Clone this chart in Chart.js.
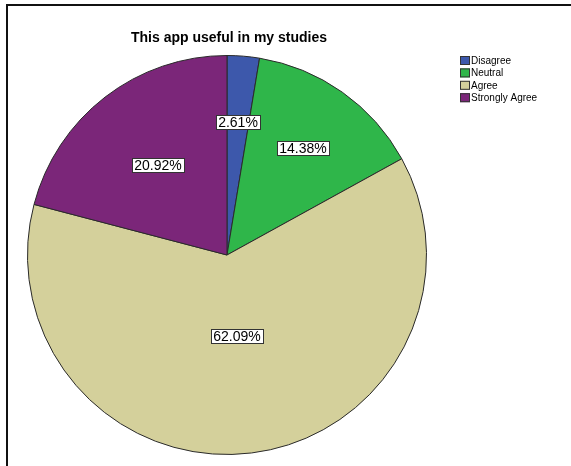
<!DOCTYPE html>
<html>
<head>
<meta charset="utf-8">
<script src="https://cdn.jsdelivr.net/npm/chart.js@4/dist/chart.umd.min.js"></script>
<style>
  html, body { margin: 0; padding: 0; background: #fff; }
  #wrap { width: 571px; height: 466px; position: relative; }
</style>
</head>
<body>
<div id="wrap"><canvas id="pie"></canvas></div>
<script>
const title = 'This app useful in my studies';
const categories = ['Disagree', 'Neutral', 'Agree', 'Strongly Agree'];
const percents = [2.61, 14.38, 62.09, 20.92];
const colors = ['#3d58ab', '#2fb64a', '#d4d09b', '#7b2679'];

// how far out (fraction of radius) each slice label sits
const labelDist = [0.67, 0.66, 0.41, 0.57];

const framePlugin = {
    id: 'frame',
    beforeDraw(chart) {
        const ctx = chart.ctx;
        ctx.save();
        ctx.fillStyle = '#111';
        ctx.fillRect(6, 4, 565, 2);
        ctx.fillRect(6, 4, 2, 462);
        ctx.restore();
    }
};

const extrasPlugin = {
    id: 'extras',
    afterDraw(chart) {
        const ctx = chart.ctx;
        ctx.save();

        // title
        ctx.fillStyle = '#000';
        ctx.font = 'bold 14px "Liberation Sans", Arial, sans-serif';
        ctx.textAlign = 'center';
        ctx.textBaseline = 'middle';
        ctx.fillText(title, 229, 38);

        // legend
        ctx.font = '10px "Liberation Sans", Arial, sans-serif';
        ctx.textAlign = 'left';
        categories.forEach((c, i) => {
            const y = 56 + i * 12.4;
            ctx.fillStyle = colors[i];
            ctx.fillRect(460, y, 10, 9);
            ctx.strokeStyle = '#333';
            ctx.lineWidth = 1;
            ctx.strokeRect(460.5, y + 0.5, 9, 8);
            ctx.fillStyle = '#000';
            ctx.fillText(c, 471, y + 5);
        });

        // percentage labels
        const meta = chart.getDatasetMeta(0);
        ctx.font = '14px "Liberation Sans", Arial, sans-serif';
        ctx.textAlign = 'center';
        meta.data.forEach((arc, i) => {
            const p = arc.getProps(['x', 'y', 'startAngle', 'endAngle', 'outerRadius'], true);
            const mid = (p.startAngle + p.endAngle) / 2;
            const r = p.outerRadius * labelDist[i];
            const x = Math.round(p.x + Math.cos(mid) * r);
            const y = Math.round(p.y + Math.sin(mid) * r);
            const txt = percents[i].toFixed(2) + '%';
            const w = Math.ceil(ctx.measureText(txt).width) + 4;
            const h = 14;
            ctx.fillStyle = '#fff';
            ctx.fillRect(x - w / 2, y - h / 2, w, h);
            ctx.strokeStyle = '#333';
            ctx.lineWidth = 1;
            ctx.strokeRect(Math.round(x - w / 2) + 0.5, Math.round(y - h / 2) + 0.5, w, h);
            ctx.fillStyle = '#000';
            ctx.fillText(txt, x, y + 1);
        });
        ctx.restore();
    }
};

new Chart(document.getElementById('pie'), {
    type: 'pie',
    data: {
        labels: categories,
        datasets: [{
            data: percents,
            backgroundColor: colors,
            borderColor: '#2a2a2a',
            borderWidth: 1
        }]
    },
    options: {
        responsive: true,
        maintainAspectRatio: false,
        animation: false,
        layout: { padding: { left: 27, right: 144, top: 55, bottom: 11 } },
        plugins: {
            legend: { display: false },
            title: { display: false },
            tooltip: { enabled: false }
        }
    },
    plugins: [framePlugin, extrasPlugin]
});
</script>
</body>
</html>
